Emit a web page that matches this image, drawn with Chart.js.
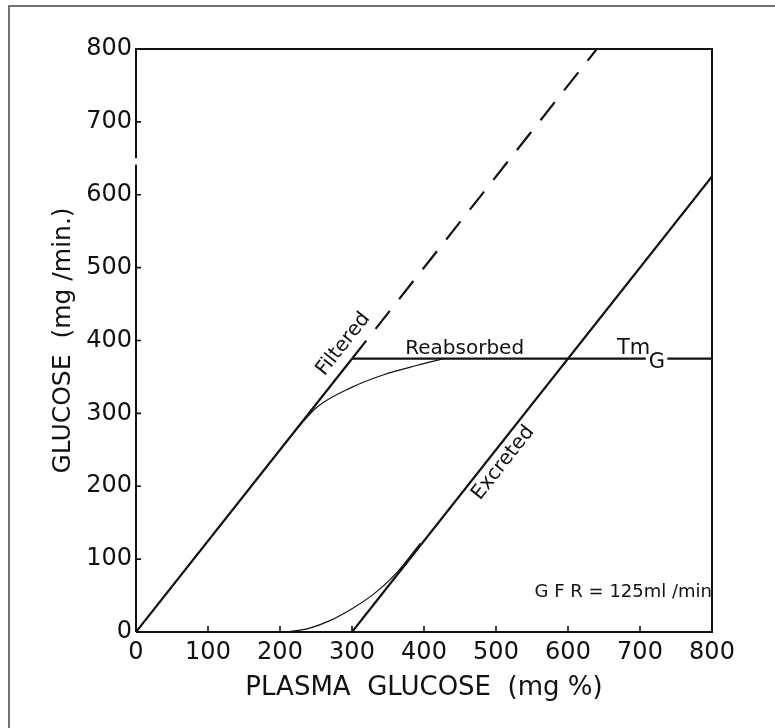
<!DOCTYPE html>
<html>
<head>
<meta charset="utf-8">
<script src="https://cdn.jsdelivr.net/npm/chart.js@4/dist/chart.umd.min.js"></script>
<style>
  body { margin: 0; background: #fff; }
  #wrap { width: 775px; height: 728px; }
</style>
</head>
<body>
<div id="wrap"><canvas id="glucose" width="775" height="728"></canvas></div>
<script>
// ticks
var xTicks = [0, 100, 200, 300, 400, 500, 600, 700, 800];
var yTicks = [0, 100, 200, 300, 400, 500, 600, 700, 800];

// filtered load (GFR 125 ml/min) - solid part then dashed part
var filteredX = [0, 300];
var filteredY = [0, 375];
var filteredDashX = [300, 640];
var filteredDashY = [375, 800];

// Tm plateau, broken where the "G" sits
var tmX = [300, 708, 723, 738, 800];
var tmY = [375, 375, null, 375, 375];

// real reabsorption curve (splay)
var reabsorbX = [219, 252, 298, 344, 391, 427];
var reabsorbY = [274, 309, 335, 353, 366, 375];

// excreted, ideal line and real curve
var excretedX = [300, 800];
var excretedY = [0, 625];
var excretedCurveX = [210, 240, 270, 300, 330, 360, 395];
var excretedCurveY = [0, 5, 16, 32, 52, 79, 122];

function pts(xs, ys) {
	return xs.map(function(x, i) { return { x: x, y: ys[i] }; });
}

var FONT = "'DejaVu Sans', sans-serif";
var INK = '#111';

function lineSet(xs, ys, width, extra) {
	var ds = {
		data: pts(xs, ys),
		showLine: true,
		borderColor: INK,
		borderWidth: width,
		pointRadius: 0,
		fill: false,
		spanGaps: false
	};
	for (var k in extra) ds[k] = extra[k];
	return ds;
}

// frame, inward ticks and the labels on the curves
var decor = {
	id: 'decor',
	afterDatasetsDraw: function(chart) {
		var ctx = chart.ctx;
		var xs = chart.scales.x, ys = chart.scales.y;
		var a = chart.chartArea;
		ctx.save();

		// outer figure border (left and top only are in the picture)
		ctx.strokeStyle = '#444';
		ctx.lineWidth = 1.5;
		ctx.beginPath();
		ctx.moveTo(9, 728);
		ctx.lineTo(9, 6);
		ctx.lineTo(775, 6);
		ctx.stroke();

		// plot frame with the break on the y axis
		ctx.strokeStyle = INK;
		ctx.lineWidth = 2;
		ctx.beginPath();
		ctx.moveTo(a.left, a.bottom);
		ctx.lineTo(a.left, ys.getPixelForValue(641));
		ctx.moveTo(a.left, ys.getPixelForValue(650));
		ctx.lineTo(a.left, a.top);
		ctx.lineTo(a.right, a.top);
		ctx.lineTo(a.right, a.bottom);
		ctx.lineTo(a.left, a.bottom);
		ctx.stroke();

		// inward tick marks
		ctx.lineWidth = 1.6;
		ctx.beginPath();
		xTicks.slice(1, -1).forEach(function(v) {
			var px = xs.getPixelForValue(v);
			ctx.moveTo(px, a.bottom);
			ctx.lineTo(px, a.bottom - 6);
		});
		yTicks.slice(1, -1).forEach(function(v) {
			var py = ys.getPixelForValue(v);
			ctx.moveTo(a.left, py);
			ctx.lineTo(a.left + 5, py);
		});
		ctx.stroke();

		ctx.fillStyle = INK;
		var ang = Math.atan2(ys.getPixelForValue(400) - ys.getPixelForValue(0),
			xs.getPixelForValue(320) - xs.getPixelForValue(0));

		function rotText(txt, x, y) {
			ctx.save();
			ctx.translate(xs.getPixelForValue(x), ys.getPixelForValue(y));
			ctx.rotate(ang);
			ctx.textAlign = 'center';
			ctx.textBaseline = 'middle';
			ctx.fillText(txt, 0, 0);
			ctx.restore();
		}

		ctx.font = '20px ' + FONT;
		rotText('Filtered', 288, 395);
		rotText('Excreted', 510, 232);

		ctx.textAlign = 'left';
		ctx.textBaseline = 'alphabetic';
		var tmPy = ys.getPixelForValue(375);
		ctx.fillText('Reabsorbed', xs.getPixelForValue(374), tmPy - 5);
		ctx.font = '21px ' + FONT;
		ctx.fillText('Tm', xs.getPixelForValue(668), tmPy - 5);
		ctx.fillText('G', xs.getPixelForValue(712), tmPy + 9);

		ctx.font = '18px ' + FONT;
		ctx.textAlign = 'right';
		ctx.fillText('G F R = 125ml /min', a.right, ys.getPixelForValue(48));

		ctx.restore();
	}
};

var chartConfig = {
	type: 'scatter',
	data: {
		datasets: [
			lineSet(filteredX, filteredY, 2.2),
			lineSet(filteredDashX, filteredDashY, 2.2, { borderDash: [23, 15] }),
			lineSet(tmX, tmY, 2.2),
			lineSet(excretedX, excretedY, 2.2),
			lineSet(reabsorbX, reabsorbY, 1.2, { cubicInterpolationMode: 'monotone' }),
			lineSet(excretedCurveX, excretedCurveY, 1.2, { cubicInterpolationMode: 'monotone' })
		]
	},
	options: {
		responsive: false,
		animation: false,
		layout: { padding: { top: 49, right: 63, bottom: 0, left: 0 } },
		plugins: { legend: { display: false }, tooltip: { enabled: false } },
		scales: {
			x: {
				type: 'linear',
				min: 0,
				max: 800,
				afterBuildTicks: function(s) { s.ticks = xTicks.map(function(v) { return { value: v }; }); },
				afterFit: function(s) { s.height = 96; },
				grid: { display: false, drawTicks: false },
				border: { display: false },
				ticks: {
					autoSkip: false,
					maxRotation: 0,
					padding: 6,
					color: INK,
					font: { family: FONT, size: 24 }
				},
				title: {
					display: true,
					text: 'PLASMA  GLUCOSE  (mg %)',
					color: INK,
					font: { family: FONT, size: 26 },
					padding: { top: 0, bottom: 24 }
				}
			},
			y: {
				type: 'linear',
				min: 0,
				max: 800,
				afterBuildTicks: function(s) { s.ticks = yTicks.map(function(v) { return { value: v }; }); },
				afterFit: function(s) { s.width = 136; },
				grid: { display: false, drawTicks: false },
				border: { display: false },
				ticks: {
					autoSkip: false,
					padding: 4,
					color: INK,
					font: { family: FONT, size: 24 }
				},
				title: {
					display: true,
					text: 'GLUCOSE  (mg /min.)',
					color: INK,
					font: { family: FONT, size: 25 },
					padding: { top: 48, bottom: 0 }
				}
			}
		}
	},
	plugins: [decor]
};

try {
	var glucoseChart = new Chart(document.getElementById('glucose').getContext('2d'), chartConfig);
} catch (e) {
	console.log('chart failed', e);
}
</script>
</body>
</html>
